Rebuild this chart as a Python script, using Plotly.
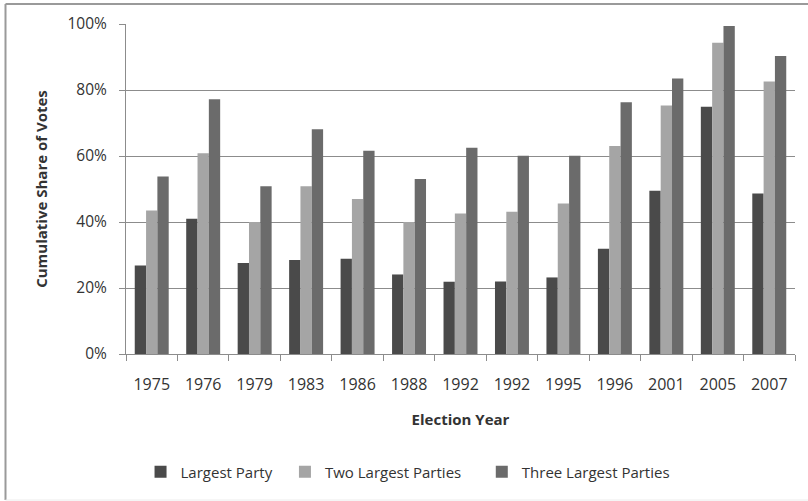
import plotly.graph_objects as go

years = ["1975", "1976", "1979", "1983", "1986", "1988", "1992", "1992", "1995", "1996", "2001", "2005", "2007"]
largest_party = [26.8, 41.0, 27.6, 28.5, 28.9, 24.1, 21.9, 22.0, 23.2, 31.9, 49.5, 74.9, 48.6]
two_largest = [43.5, 60.8, 40.0, 50.8, 47.0, 40.0, 42.6, 43.1, 45.6, 63.0, 75.3, 94.3, 82.6]
three_largest = [53.8, 77.2, 50.8, 68.1, 61.6, 53.0, 62.5, 60.1, 60.1, 76.3, 83.5, 99.4, 90.3]

series_names = ["Largest Party", "Two Largest Parties", "Three Largest Parties"]
series_values = [largest_party, two_largest, three_largest]
series_colors = ["#4a4a4a", "#a5a5a5", "#6b6b6b"]
legend_padding = ["\u00a0\u00a0", "\u00a0\u00a0\u00a0\u00a0", ""]

pos = list(range(len(years)))
FONT = "Open Sans"
TXT = "#333333"
GRID = "#8c8c8c"

fig = go.Figure()
for name, vals, col, pad in zip(series_names, series_values, series_colors, legend_padding):
    fig.add_trace(go.Bar(x=pos, y=vals, name=name + pad, hovertext=name,
                         marker=dict(color=col, line=dict(width=0))))

fig.update_layout(
    width=808, height=501,
    margin=dict(l=126, r=13, t=24, b=147),
    paper_bgcolor="white", plot_bgcolor="white",
    barmode="group", bargap=0.34, bargroupgap=0,
    font=dict(family=FONT, size=15, color=TXT),
    showlegend=True,
    legend=dict(orientation="h", xref="container", yref="container",
                x=0.505, xanchor="center", y=1 - 472 / 501, yanchor="middle",
                font=dict(size=15, color=TXT), itemwidth=30, traceorder="normal"),
    xaxis=dict(
        range=[-0.5, len(years) - 0.5], tickmode="array", tickvals=pos, ticktext=years,
        ticks="", showgrid=False, zeroline=False,
        showline=True, linecolor=GRID, linewidth=1,
        ticklabelstandoff=16,
        tickfont=dict(size=16, color=TXT),
        minor=dict(tickmode="array", tickvals=[p - 0.5 for p in pos] + [len(years) - 0.5],
                   ticks="outside", ticklen=6, tickcolor=GRID, tickwidth=1, showgrid=False),
        title=dict(text="<b>Election Year</b>", font=dict(size=15, color=TXT), standoff=20),
        automargin=False,
    ),
    yaxis=dict(
        range=[0, 100], tickmode="array", tickvals=[0, 20, 40, 60, 80, 100],
        ticktext=["0%", "20%", "40%", "60%", "80%", "100%"],
        ticks="outside", ticklen=6, tickcolor=GRID,
        showgrid=True, gridcolor=GRID, gridwidth=1, zeroline=False,
        showline=True, linecolor=GRID, linewidth=1,
        ticklabelstandoff=9,
        tickfont=dict(size=15.5, color=TXT),
        title=dict(text="<b>Cumulative Share of Votes</b>", font=dict(size=15, color=TXT), standoff=16),
        automargin=False,
    ),
    shapes=[
        dict(type="line", xref="paper", yref="paper", x0=(5.5 - 126) / 669, x1=(5.5 - 126) / 669,
             y0=(354 - 4) / 330, y1=(354 - 500) / 330, line=dict(color="#9a9a9a", width=2)),
        dict(type="line", xref="paper", yref="paper", x0=(5.5 - 126) / 669, x1=(808 - 126) / 669,
             y0=(354 - 4) / 330, y1=(354 - 4) / 330, line=dict(color="#9a9a9a", width=2)),
        dict(type="line", xref="paper", yref="paper", x0=(5.5 - 126) / 669, x1=(808 - 126) / 669,
             y0=(354 - 500) / 330, y1=(354 - 500) / 330, line=dict(color="#ececec", width=1)),
    ],
)

fig.write_html("out.html", config={"displayModeBar": False},
               post_script="document.body.style.margin='0';")
